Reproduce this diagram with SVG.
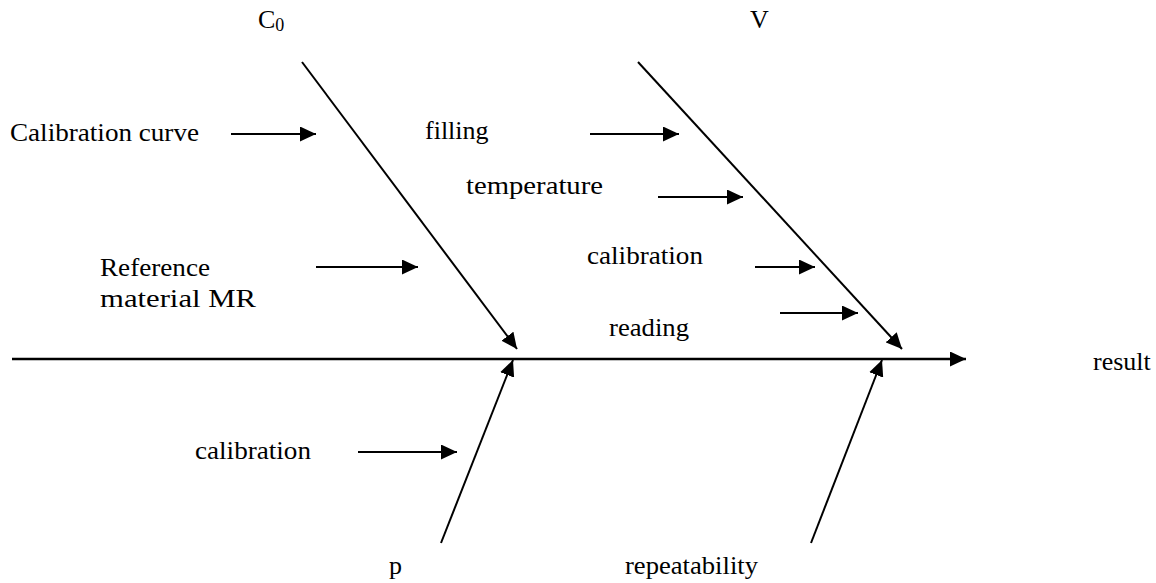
<svg xmlns="http://www.w3.org/2000/svg" width="1156" height="583" viewBox="0 0 1156 583">
<style>
text { font-family: "Liberation Serif", "Times New Roman", "DejaVu Serif", serif; font-size: 26px; fill: #000; }
.ar { stroke: #000; stroke-width: 2; fill: none; marker-end: url(#ah); }
</style>
<defs>
<marker id="ah" markerUnits="userSpaceOnUse" markerWidth="17" markerHeight="15" refX="16" refY="7.5" orient="auto" viewBox="0 0 17 15">
<path d="M0,0 L16,7.5 L0,15 z" fill="#000"/>
</marker>
</defs>
<rect width="1156" height="583" fill="#fff"/>
<g id="connectors">
<line class="ar" x1="12" y1="359" x2="966" y2="359" style="stroke-width:2.5"/>
<line class="ar" x1="302" y1="62" x2="517" y2="349"/>
<line class="ar" x1="638" y1="62" x2="902" y2="349"/>
<line class="ar" x1="441" y1="543" x2="513" y2="360"/>
<line class="ar" x1="811" y1="543" x2="882" y2="360"/>
<line class="ar" x1="231" y1="134" x2="316" y2="134"/>
<line class="ar" x1="316" y1="267" x2="418" y2="267"/>
<line class="ar" x1="358" y1="452" x2="457" y2="452"/>
<line class="ar" x1="590" y1="134" x2="679" y2="134"/>
<line class="ar" x1="658" y1="197" x2="743" y2="197"/>
<line class="ar" x1="755" y1="267" x2="815" y2="267"/>
<line class="ar" x1="780" y1="313" x2="858" y2="313"/>
</g>
<g id="node-C0"><text x="258" y="28">C<tspan font-size="18" dy="3">0</tspan></text></g>
<g id="node-V"><text x="750" y="28">V</text></g>
<g id="node-calcurve"><text x="10" y="141" textLength="189" lengthAdjust="spacingAndGlyphs">Calibration curve</text></g>
<g id="node-refmat"><text x="100" y="276" textLength="110" lengthAdjust="spacingAndGlyphs">Reference</text><text x="100" y="307" textLength="156" lengthAdjust="spacingAndGlyphs">material MR</text></g>
<g id="node-cal-bottom"><text x="195" y="459" textLength="116" lengthAdjust="spacingAndGlyphs">calibration</text></g>
<g id="node-filling"><text x="425" y="139">filling</text></g>
<g id="node-temperature"><text x="466" y="194" textLength="137" lengthAdjust="spacingAndGlyphs">temperature</text></g>
<g id="node-cal-top"><text x="587" y="264" textLength="116" lengthAdjust="spacingAndGlyphs">calibration</text></g>
<g id="node-reading"><text x="609" y="336" textLength="80" lengthAdjust="spacingAndGlyphs">reading</text></g>
<g id="node-p"><text x="389" y="574">p</text></g>
<g id="node-repeat"><text x="625" y="574" textLength="133" lengthAdjust="spacingAndGlyphs">repeatability</text></g>
<g id="node-result"><text x="1093" y="370">result</text></g>
</svg>
